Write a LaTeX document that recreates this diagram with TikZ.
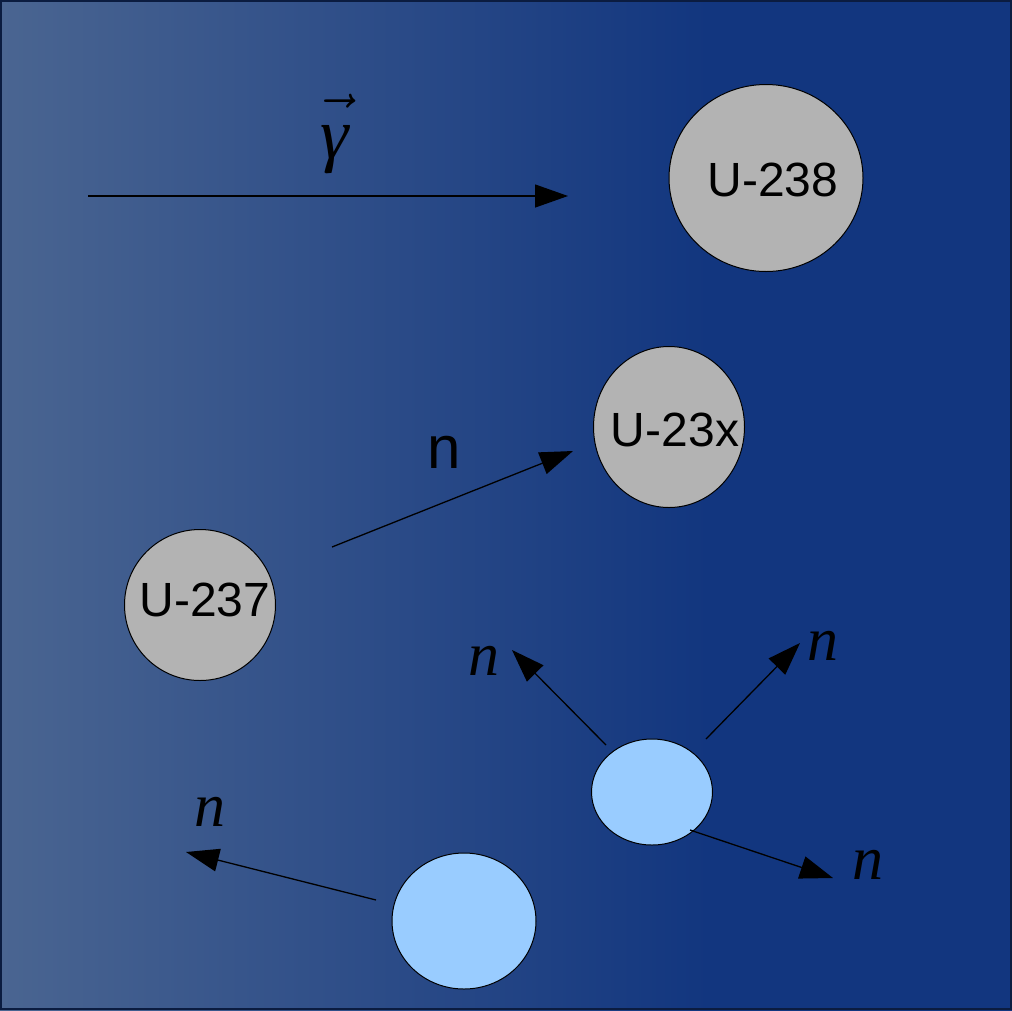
\RequirePackage{fix-cm}
\documentclass[tikz,border=0pt]{standalone}
\usepackage[no-math]{fontspec}
\setmainfont{Liberation Sans}
\newfontfamily\serifn{Liberation Serif}
\usetikzlibrary{arrows.meta,shapes.geometric}
\definecolor{bgleft}{HTML}{4A6591}
\definecolor{bgright}{HTML}{12367F}
\definecolor{bgedge}{HTML}{0B1C40}
\definecolor{nucgray}{HTML}{B3B3B3}
\definecolor{fraglight}{HTML}{99CCFF}
\pgfdeclarehorizontalshading{bgshade}{100bp}{color(0bp)=(bgleft); color(25bp)=(bgleft); color(60bp)=(bgright); color(100bp)=(bgright)}
\begin{document}
\begin{tikzpicture}[x=1pt,y=-1pt,line width=1.3pt,
  nucleus/.style={ellipse,draw=black,line width=1pt,fill=nucgray,inner sep=0pt},
  nuctext/.style={label distance=0pt,font=\fontsize{48}{58}\selectfont},
  fragment/.style={ellipse,draw=black,line width=1pt,fill=fraglight,inner sep=0pt},
  ray/.style={-{Triangle[length=33pt,width=23pt]}},
  nlabel/.style={inner sep=0pt,font=\fontsize{62}{74}\serifn\itshape}]
\useasboundingbox (0,0) rectangle (1012,1010);
\fill[shading=bgshade] (0,0) rectangle (1012,1010);
\draw[line width=2pt,bgedge] (1,1) rectangle (1011,1009);
% nuclei
\node[nucleus,minimum width=194pt,minimum height=187pt,
  label={[nuctext,xshift=7pt,yshift=-2pt]center:U-238}] (u238) at (766,178) {};
\node[nucleus,minimum width=151pt,minimum height=161pt,
  label={[nuctext,xshift=6pt,yshift=-3pt]center:U-23x}] (u23x) at (669,427) {};
\node[nucleus,minimum width=151pt,minimum height=151pt,
  label={[nuctext,xshift=5pt,yshift=5pt]center:U-237}] (u237) at (200,605) {};
% fission fragments
\node[fragment,minimum width=121pt,minimum height=106pt] (frag1) at (652,792) {};
\node[fragment,minimum width=144pt,minimum height=136pt] (frag2) at (464,921) {};
% incoming photon
\coordinate (gstart) at (88,196);
\coordinate (gend) at (568,196);
\draw[ray] (gstart) -- (gend);
\node[inner sep=0pt,font=\fontsize{72}{86}\selectfont] (gamma) at (335,134)
  {$\vec{\mbox{\rule{0pt}{0.6em}\serifn\itshape γ}}$};
% neutron capture
\coordinate (nstart) at (332,547);
\coordinate (nend) at (573,451);
\draw[ray] (nstart) -- (nend);
\node[inner sep=0pt,font=\fontsize{60}{72}\selectfont] (ncap) at (444,452) {n};
% emitted neutrons
\coordinate (e1s) at (606,745);
\coordinate (e1e) at (512,650);
\coordinate (e2s) at (706,739);
\coordinate (e2e) at (800,643);
\coordinate (e3s) at (690,830);
\coordinate (e3e) at (833,878);
\coordinate (e4s) at (376,900);
\coordinate (e4e) at (186,852);
\draw[ray] (e1s) -- (e1e);
\draw[ray] (e2s) -- (e2e);
\draw[ray] (e3s) -- (e3e);
\draw[ray] (e4s) -- (e4e);
\node[nlabel] (n1) at (484,661) {n};
\node[nlabel] (n2) at (823,646) {n};
\node[nlabel] (n3) at (868,865) {n};
\node[nlabel] (n4) at (210,812) {n};
\end{tikzpicture}
\end{document}
